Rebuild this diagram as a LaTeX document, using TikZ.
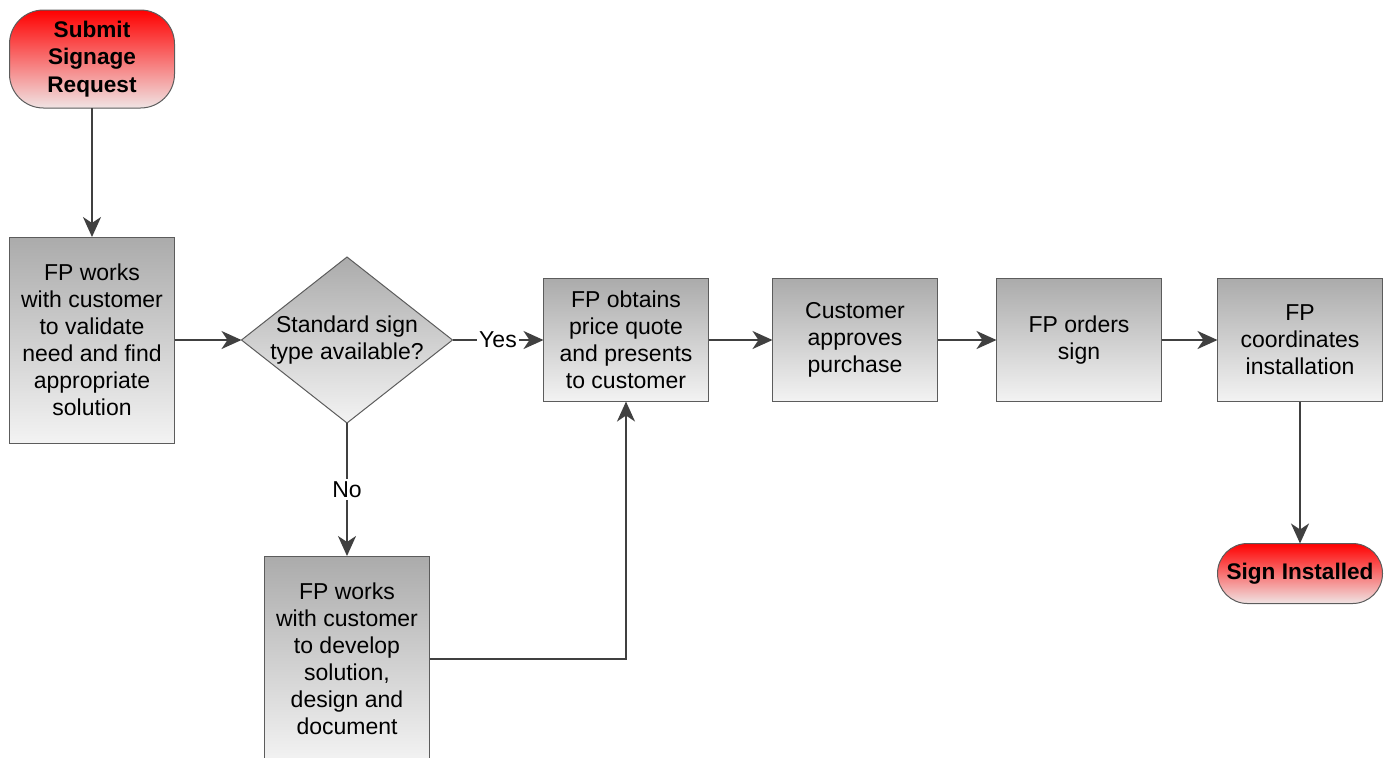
\documentclass[tikz,border=0pt]{standalone}
\usepackage{fontspec}
\setmainfont{Liberation Sans}
\usepackage{xcolor}
\definecolor{colorLine}{HTML}{404040}
\definecolor{colorBorder}{HTML}{5C5C5C}
\definecolor{colorBoxTop}{HTML}{ABABAB}
\definecolor{colorBoxBottom}{HTML}{F3F3F3}
\definecolor{colorTermTop}{HTML}{FF0000}
\definecolor{colorTermBottom}{HTML}{F0E4E4}
\usepackage{tikz}
\usetikzlibrary{arrows.meta, shapes.geometric, positioning}
\tikzset{process/.style={rectangle, draw=colorBorder, line width=0.5pt, outer sep=0pt, top color=colorBoxTop, bottom color=colorBoxBottom, minimum width=82.5pt, minimum height=61.5pt, align=center, inner sep=1pt}}
\tikzset{decision/.style={diamond, draw=colorBorder, line width=0.5pt, outer sep=0pt, top color=colorBoxTop, bottom color=colorBoxBottom, minimum width=105.5pt, minimum height=83pt, inner sep=-7pt, align=center}}
\tikzset{terminal/.style={rectangle, rounded corners=17pt, draw=colorBorder, line width=0.5pt, outer sep=0pt, top color=colorTermTop, bottom color=colorTermBottom, minimum width=82.5pt, align=center, font=\fontsize{11.3}{13.8}\selectfont\bfseries}}
\tikzset{link/.style={->, draw=colorLine, line width=1.1pt}}
\tikzset{answer/.style={fill=white, inner sep=1pt}}

\begin{document}
\begin{tikzpicture}[x=0.5pt, y=-0.5pt, >={Stealth[length=10pt, width=9pt, inset=3pt]}, every node/.style={font=\fontsize{11.5}{13.5}\selectfont}]
\useasboundingbox (0,0) rectangle (1385,757);
\node[terminal, minimum height=49pt] (start) at (92,59) {Submit\\Signage\\Request};
\node[process, minimum height=103pt, below=64.5pt of start] (validate) {FP works\\with customer\\to validate\\need and find\\appropriate\\solution};
\node[decision, right=33.5pt of validate] (decide) {Standard sign\\type available?};
\node[process, right=45.5pt of decide] (quote) {FP obtains\\price quote\\and presents\\to customer};
\node[process, right=32pt of quote] (approve) {Customer\\approves\\purchase};
\node[process, right=29.5pt of approve] (order) {FP orders\\sign};
\node[process, right=28pt of order] (install) {FP\\coordinates\\installation};
\node[process, minimum height=103pt, below=66.5pt of decide] (develop) {FP works\\with customer\\to develop\\solution,\\design and\\document};
\node[terminal, rounded corners=15pt, minimum height=30pt, below=71pt of install] (finish) {Sign Installed};
\draw[link] (start) -- (validate);
\draw[link] (validate) -- (decide);
\draw[link] (decide) -- node[answer]{Yes} (quote);
\draw[link] (decide) -- node[answer]{No} (develop);
\draw[link] (develop) -| (quote);
\draw[link] (quote) -- (approve);
\draw[link] (approve) -- (order);
\draw[link] (order) -- (install);
\draw[link] (install) -- (finish);
\end{tikzpicture}
\end{document}
